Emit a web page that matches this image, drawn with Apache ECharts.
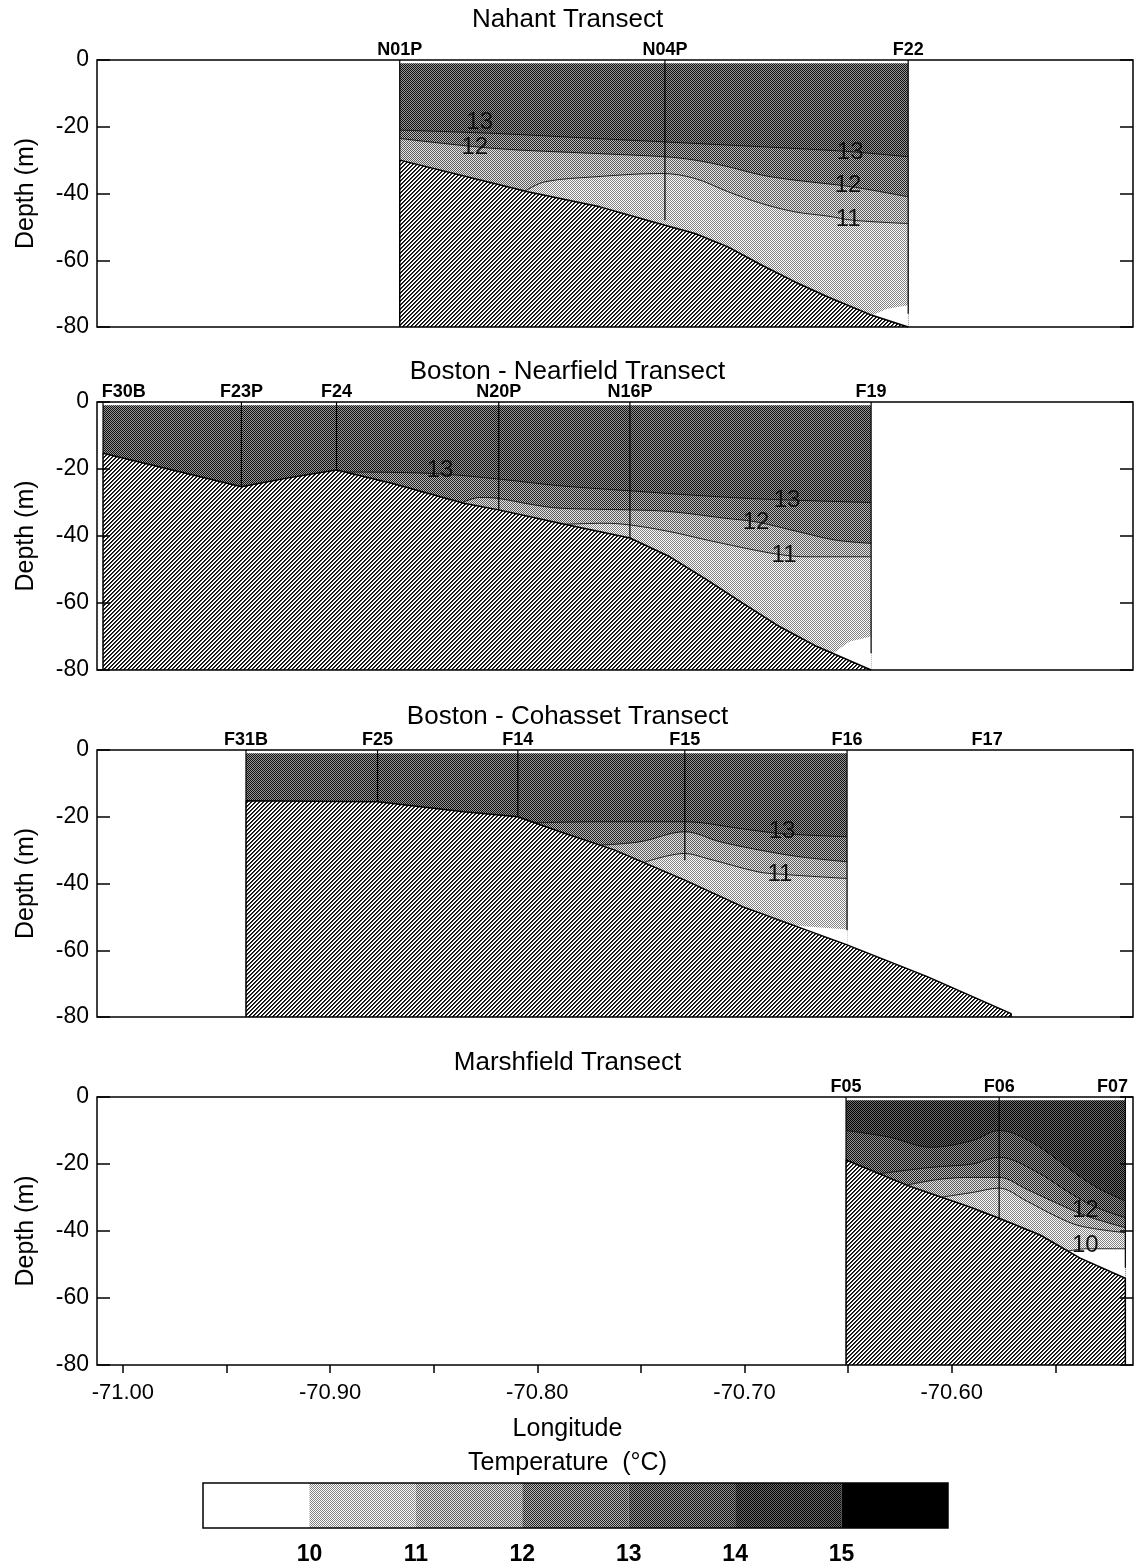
<!DOCTYPE html>
<html>
<head>
<meta charset="utf-8">
<title>Temperature transects</title>
<script src="https://cdn.jsdelivr.net/npm/echarts@6/dist/echarts.min.js"></script>
<style>
  html, body { margin: 0; padding: 0; background: #fff; }
  #chart { width: 1135px; height: 1566px; }
</style>
</head>
<body>
<div id="chart"></div>
<script>
const FONT = '"Liberation Sans", Arial, Helvetica, sans-serif';

// ---------- shared axes ----------
const LON_MIN = -71.0125, LON_MAX = -70.5125;
const lonTickValues = [-71.00, -70.95, -70.90, -70.85, -70.80, -70.75, -70.70, -70.65, -70.60, -70.55];
const lonLabelValues = [-71.00, -70.90, -70.80, -70.70, -70.60];
const tempLegendBins = [9, 10, 11, 12, 13, 14, 15];      // lower edge of each colour band
const tempLegendLabels = [10, 11, 12, 13, 14, 15];

// ---------- Nahant Transect ----------
const nahantStations = ['N01P', 'N04P', 'F22'];
const nahantStationLon = [-70.8664, -70.7384, -70.6210];
const nahantCastDepth = [-30, -48, -76];
const nahantBottom = [[-70.8664, -30], [-70.8046, -39.5], [-70.7698, -44], [-70.7384, -49.5], [-70.7239, -52],
  [-70.7080, -56], [-70.6916, -61.5], [-70.6756, -66.5], [-70.6597, -71], [-70.6384, -76.5], [-70.6210, -80]];
const nahantFloor = [[-70.6384, -76.5], [-70.6310, -74.5], [-70.6210, -73.5]];
const nahantIso13 = [[-70.8664, -21], [-70.8205, -22], [-70.7722, -23.5], [-70.7239, -25], [-70.6756, -26.5],
  [-70.6482, -27.5], [-70.6210, -29]];
const nahantIso12 = [[-70.8664, -23.5], [-70.8205, -26.5], [-70.7722, -28], [-70.7384, -29], [-70.7239, -30],
  [-70.7078, -32], [-70.6916, -34.5], [-70.6756, -36], [-70.6482, -38], [-70.6210, -41]];
const nahantIso11 = [[-70.8060, -39.3], [-70.7964, -36.5], [-70.7722, -35], [-70.7400, -34], [-70.7239, -35.5],
  [-70.7078, -39.5], [-70.6917, -43], [-70.6756, -45.5], [-70.6595, -46.8], [-70.6480, -48], [-70.6210, -49]];
const nahantLabels = [[-70.8278, -18.6, '13'], [-70.8302, -26.1, '12'], [-70.6490, -27.6, '13'],
  [-70.6500, -37.5, '12'], [-70.6500, -47.9, '11']];

// ---------- Boston - Nearfield Transect ----------
const nearStations = ['F30B', 'F23P', 'F24', 'N20P', 'N16P', 'F19'];
const nearStationLon = [-71.0096, -70.9428, -70.8969, -70.8186, -70.7553, -70.6389];
const nearCastDepth = [-15.3, -25.3, -20.3, -32.2, -40.6, -75];
const nearBottom = [[-71.0096, -15.3], [-70.9428, -25.3], [-70.9215, -22.8], [-70.8969, -20.3], [-70.8698, -24.3],
  [-70.8355, -30.2], [-70.8186, -32.2], [-70.7891, -36.2], [-70.7553, -40.6], [-70.7360, -46.2],
  [-70.7181, -53.1], [-70.7007, -60.1], [-70.6829, -67.1], [-70.6650, -73], [-70.6389, -80]];
const nearFloor = [[-70.6572, -75], [-70.6492, -71.5], [-70.6389, -70]];
const nearIso13 = [[-70.8930, -20.9], [-70.8698, -21], [-70.8457, -21.5], [-70.8186, -23], [-70.7891, -25],
  [-70.7553, -26.5], [-70.7200, -28], [-70.6900, -29], [-70.6389, -30]];
const nearIso12 = [[-70.8365, -30.1], [-70.8278, -28.5], [-70.8186, -28.8], [-70.8036, -30.5], [-70.7891, -31.7],
  [-70.7553, -32.2], [-70.7360, -32.7], [-70.7094, -34.7], [-70.6944, -35.8], [-70.6741, -38.7],
  [-70.6563, -41.2], [-70.6389, -42.2]];
const nearIso11 = [[-70.7867, -36.5], [-70.7679, -36.2], [-70.7553, -36.7], [-70.7360, -38.7], [-70.7181, -41.2],
  [-70.6935, -44.4], [-70.6810, -45.7], [-70.6703, -46.2], [-70.6389, -46.2]];
const nearLabels = [[-70.8469, -20.3, '13'], [-70.6795, -29.3, '13'], [-70.6944, -35.8, '12'], [-70.6809, -45.7, '11']];

// ---------- Boston - Cohasset Transect ----------
const cohStations = ['F31B', 'F25', 'F14', 'F15', 'F16', 'F17'];
const cohStationLon = [-70.9406, -70.8771, -70.8094, -70.7288, -70.6505, -70.5829];
const cohCastDepth = [-15.2, -15.5, -20, -33, -54, null];
const cohBottom = [[-70.9406, -15.2], [-70.8771, -15.5], [-70.8355, -18.5], [-70.8094, -20], [-70.7891, -24.5],
  [-70.7626, -30], [-70.7288, -39], [-70.7007, -47], [-70.6505, -58.4], [-70.6118, -67.9], [-70.5713, -79]];
const cohFloor = [[-70.6760, -52.6], [-70.6505, -53.8]];
const cohIso13 = [[-70.8012, -21.8], [-70.7698, -21.5], [-70.7288, -21.5], [-70.7022, -23.5], [-70.6829, -25],
  [-70.6505, -26]];
const cohIso12 = [[-70.7698, -28.5], [-70.7505, -27.5], [-70.7288, -24.5], [-70.7118, -27.5], [-70.6925, -30],
  [-70.6732, -32], [-70.6505, -33.5]];
const cohIso11 = [[-70.7486, -33.7], [-70.7288, -31], [-70.7181, -32.5], [-70.6935, -36.5], [-70.6829, -37.2],
  [-70.6505, -38.5]];
const cohLabels = [[-70.6819, -24.3, '13'], [-70.6829, -37.2, '11']];

// ---------- Marshfield Transect ----------
const marStations = ['F05', 'F06', 'F07'];
const marStationLon = [-70.6510, -70.5771, -70.5162];
const marCastDepth = [-18.8, -36.7, -51];
const marBottom = [[-70.6510, -18.8], [-70.6217, -26.3], [-70.5896, -33.2], [-70.5771, -36.2], [-70.5573, -41.2],
  [-70.5380, -48.1], [-70.5162, -54.1]];
const marIso14 = [[-70.6510, -10], [-70.6300, -12], [-70.6100, -15], [-70.5900, -13], [-70.5771, -10],
  [-70.5600, -14], [-70.5420, -22], [-70.5300, -27], [-70.5162, -31]];
const marIso13 = [[-70.6350, -22.9], [-70.6100, -21], [-70.5900, -20], [-70.5771, -18], [-70.5600, -22],
  [-70.5420, -29], [-70.5300, -33], [-70.5162, -36]];
const marIso12 = [[-70.6217, -26.3], [-70.6050, -24.5], [-70.5900, -24], [-70.5771, -24], [-70.5640, -27.5],
  [-70.5500, -31.5], [-70.5350, -35.5], [-70.5162, -39]];
const marIso11 = [[-70.6050, -29.9], [-70.5900, -28.5], [-70.5771, -27.2], [-70.5640, -31], [-70.5500, -35.5],
  [-70.5380, -38.5], [-70.5162, -40.5]];
const marIso10 = [[-70.5438, -46], [-70.5350, -45.3], [-70.5162, -45.3]];
const marLabels = [[-70.5355, -33.7, '12'], [-70.5355, -44.2, '10']];

// ---------- fills: halftone screens for temperature bands, hatch for the sea floor ----------
function tile(size, shade) {
  const c = document.createElement('canvas');
  c.width = c.height = size;
  const ctx = c.getContext('2d');
  const img = ctx.createImageData(size, size);
  for (let y = 0; y < size; y++) {
    for (let x = 0; x < size; x++) {
      const v = shade(x, y), i = (y * size + x) * 4;
      img.data[i] = img.data[i + 1] = img.data[i + 2] = v;
      img.data[i + 3] = 255;
    }
  }
  ctx.putImageData(img, 0, 0);
  return { image: c, repeat: 'repeat' };
}
const checker = (light, dark) => tile(2, (x, y) => ((x + y) % 2 ? light : dark));
const bandFill = {
  9: '#ffffff',
  10: checker(0xff, 0x80),
  11: checker(0xe4, 0x5c),
  12: checker(0xb8, 0x20),
  13: checker(0x94, 0x10),
  14: checker(0x6c, 0x00),
  15: '#000000'
};
const hatchFill = tile(4, (x, y) => {
  const d = (x + y) % 4;
  return d === 0 ? 0x00 : d === 1 ? 0x38 : 0xff;
});

const panels = [
  { title: 'Nahant Transect', stations: nahantStations, lon: nahantStationLon, cast: nahantCastDepth,
    surfaceBand: 13, iso: [[13, nahantIso13], [12, nahantIso12], [11, nahantIso11]],
    floor: nahantFloor, bottom: nahantBottom, labels: nahantLabels },
  { title: 'Boston - Nearfield Transect', stations: nearStations, lon: nearStationLon, cast: nearCastDepth,
    surfaceBand: 13, iso: [[13, nearIso13], [12, nearIso12], [11, nearIso11]],
    floor: nearFloor, bottom: nearBottom, labels: nearLabels },
  { title: 'Boston - Cohasset Transect', stations: cohStations, lon: cohStationLon, cast: cohCastDepth,
    surfaceBand: 13, iso: [[13, cohIso13], [12, cohIso12], [11, cohIso11]],
    floor: cohFloor, bottom: cohBottom, labels: cohLabels },
  { title: 'Marshfield Transect', stations: marStations, lon: marStationLon, cast: marCastDepth,
    surfaceBand: 14, iso: [[14, marIso14], [13, marIso13], [12, marIso12], [11, marIso11], [10, marIso10]],
    floor: null, bottom: marBottom, labels: marLabels }
];

// ---------- layout ----------
const gridTops = [60, 402, 750, 1097];
const gridHeights = [267, 268, 267, 268];
const titleTops = [7, 359, 704, 1050];

const grid = [], xAxis = [], yAxis = [], series = [], title = [];

panels.forEach((def, p) => {
  grid.push({ left: 97, top: gridTops[p], width: 1036, height: gridHeights[p], show: true, z: 30,
    backgroundColor: 'transparent', borderColor: '#000', borderWidth: 1.5 });
  title.push({ text: def.title, left: 'center', top: titleTops[p], padding: 0,
    textStyle: { fontFamily: FONT, fontSize: 26, fontWeight: 'normal', color: '#000' } });

  const last = p === panels.length - 1;
  xAxis.push({
    type: 'value', gridIndex: p, position: 'bottom', min: LON_MIN, max: LON_MAX, z: 31,
    axisLine: { show: false, onZero: false }, splitLine: { show: false },
    axisTick: { show: last, inside: false, length: 8, customValues: lonTickValues, lineStyle: { color: '#000', width: 1.5 } },
    axisLabel: { show: last, customValues: lonLabelValues, formatter: v => v.toFixed(2), margin: 17,
      fontFamily: FONT, fontSize: 22, color: '#000' }
  });
  yAxis.push({
    type: 'value', gridIndex: p, min: -80, max: 0, interval: 20, z: 31,
    name: 'Depth (m)', nameLocation: 'middle', nameRotate: 90, nameGap: 58,
    nameTextStyle: { fontFamily: FONT, fontSize: 25, color: '#000' },
    axisLine: { show: false, onZero: false }, splitLine: { show: false },
    axisTick: { inside: true, length: 13, lineStyle: { color: '#000', width: 1.5 } },
    axisLabel: { margin: 8, fontFamily: FONT, fontSize: 23, color: '#000' }
  });
  yAxis.push({
    type: 'value', gridIndex: p, position: 'right', min: -80, max: 0, interval: 20, z: 31,
    axisLine: { show: false, onZero: false }, splitLine: { show: false }, axisLabel: { show: false },
    axisTick: { inside: true, length: 13, lineStyle: { color: '#000', width: 1.5 } }
  });

  const ax = { xAxisIndex: p, yAxisIndex: 2 * p, silent: true, animation: false, symbol: 'none' };
  const sampled = def.lon.filter((_, j) => def.cast[j] != null);
  const x0 = Math.min(...sampled), x1 = Math.max(...sampled);

  // water column at the surface band
  series.push(Object.assign({ type: 'line', z: 2, data: [[x0, -1], [x1, -1]],
    lineStyle: { width: 0, opacity: 0 },
    areaStyle: { color: bandFill[def.surfaceBand], opacity: 1, origin: 'start' } }, ax));

  // each isotherm, with the next-colder band below it
  def.iso.forEach(([t, pts], k) => {
    series.push(Object.assign({ type: 'line', z: 3 + k, data: pts, smooth: 0.35,
      lineStyle: { color: '#111', width: 0.9 },
      areaStyle: { color: bandFill[t - 1], opacity: 1, origin: 'start' } }, ax));
  });

  // below the deepest sample
  if (def.floor) {
    series.push(Object.assign({ type: 'line', z: 10, data: def.floor,
      lineStyle: { width: 0, opacity: 0 },
      areaStyle: { color: '#ffffff', opacity: 1, origin: 'start' } }, ax));
  }

  // sea floor
  const b = def.bottom;
  series.push(Object.assign({ type: 'line', z: 11,
    data: [[b[0][0], -80]].concat(b, [[b[b.length - 1][0], -80]]),
    lineStyle: { color: '#000', width: 1.5 },
    areaStyle: { color: hatchFill, opacity: 1, origin: 'start' } }, ax));

  // station casts and names
  series.push({
    type: 'custom', xAxisIndex: p, yAxisIndex: 2 * p, z: 20, clip: false, silent: true, animation: false,
    data: def.lon.map((lon, j) => [lon, def.cast[j] == null ? 0 : def.cast[j], def.cast[j] == null ? 0 : 1]),
    renderItem: (params, api) => {
      const lon = api.value(0);
      const top = api.coord([lon, 0]);
      const bot = api.coord([lon, api.value(1)]);
      const name = def.stations[params.dataIndex];
      const cs = params.coordSys;
      const half = name.length * 6.2;
      const tx = Math.max(cs.x + half + 2, Math.min(cs.x + cs.width - half - 2, top[0]));
      const children = [{
        type: 'text', x: tx, y: top[1] - 1,
        style: { text: name, font: 'bold 18px ' + FONT, fill: '#000', align: 'center', verticalAlign: 'bottom' }
      }];
      if (api.value(2)) {
        children.push({ type: 'line', shape: { x1: top[0], y1: top[1], x2: bot[0], y2: bot[1] },
          style: { stroke: '#000', lineWidth: 1.2 } });
      }
      return { type: 'group', children };
    }
  });

  // isotherm labels
  series.push({
    type: 'custom', xAxisIndex: p, yAxisIndex: 2 * p, z: 21, silent: true, animation: false,
    data: def.labels.map(l => [l[0], l[1]]),
    renderItem: (params, api) => {
      const pt = api.coord([api.value(0), api.value(1)]);
      return { type: 'text', x: pt[0], y: pt[1],
        style: { text: def.labels[params.dataIndex][2], font: '24px ' + FONT, fill: '#111',
          align: 'center', verticalAlign: 'middle' } };
    }
  });
});

// ---------- temperature colour bar ----------
grid.push({ left: 203, top: 1483, width: 745, height: 45, show: true, z: 30,
  backgroundColor: 'transparent', borderColor: '#000', borderWidth: 1.5 });
xAxis.push({ type: 'value', gridIndex: 4, position: 'bottom', min: 9, max: 16, z: 31,
  axisLine: { show: false, onZero: false }, axisTick: { show: false }, splitLine: { show: false },
  axisLabel: { customValues: tempLegendLabels, margin: 15, fontFamily: FONT, fontSize: 23,
    fontWeight: 'bold', color: '#000' } });
yAxis.push({ type: 'value', gridIndex: 4, min: 0, max: 1, show: false });
series.push({
  type: 'custom', xAxisIndex: 4, yAxisIndex: 8, silent: true, animation: false,
  data: tempLegendBins.map(t => [t, t + 1]),
  renderItem: (params, api) => {
    const a = api.coord([api.value(0), 1]);
    const c = api.coord([api.value(1), 0]);
    return { type: 'rect', shape: { x: a[0], y: a[1], width: c[0] - a[0], height: c[1] - a[1] },
      style: { fill: bandFill[tempLegendBins[params.dataIndex]] } };
  }
});

title.push({ text: 'Longitude', left: 'center', top: 1417, padding: 0,
  textStyle: { fontFamily: FONT, fontSize: 25, fontWeight: 'normal', color: '#000' } });
title.push({ text: 'Temperature  (°C)', left: 'center', top: 1451, padding: 0,
  textStyle: { fontFamily: FONT, fontSize: 25, fontWeight: 'normal', color: '#000' } });

const chart = echarts.init(document.getElementById('chart'), null, { renderer: 'canvas' });
chart.setOption({ animation: false, backgroundColor: '#ffffff', title, grid, xAxis, yAxis, series });
</script>
</body>
</html>
